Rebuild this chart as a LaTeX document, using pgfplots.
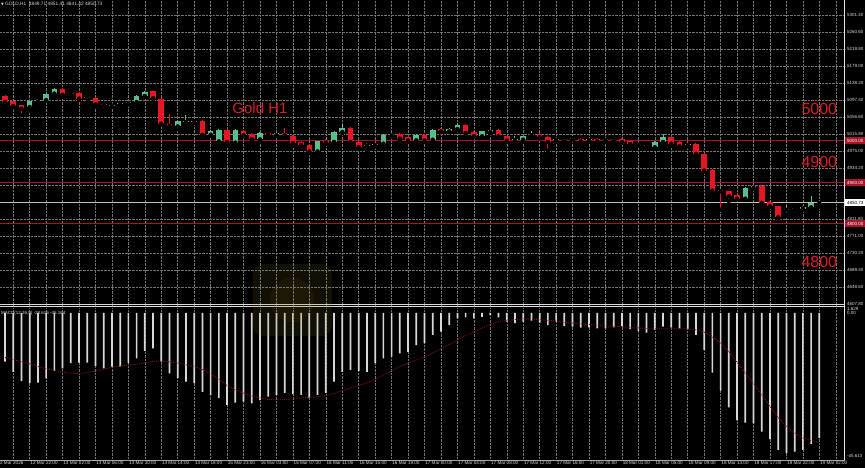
\documentclass[border=0pt]{standalone}
\usepackage{pgfplots}
\pgfplotsset{compat=1.18}
\usepackage{pgfplotstable}
\usepackage{fontspec}
\setmainfont{Liberation Sans}
\newfontfamily\sym{DejaVu Sans}
\definecolor{bull}{RGB}{90,190,140}
\definecolor{bear}{RGB}{232,22,36}
\definecolor{lvl}{RGB}{165,20,40}
\definecolor{lbl}{RGB}{215,30,40}
\definecolor{gridc}{RGB}{115,115,115}
\definecolor{txt}{RGB}{215,215,215}
\definecolor{hist}{RGB}{215,215,215}
\definecolor{sig}{RGB}{130,15,25}

\pgfplotstableread{
i o h l c
3 5080.6 5096 5072.6 5094
4 5094 5100 5092 5098
5 5097 5114 5095 5112
6 5112.6 5127 5111 5124.6
13 5084 5088 5082 5086.4
14 5087 5092 5085 5090
15 5089 5094 5087 5092
16 5092.6 5109 5090 5107
17 5107 5119 5105 5116.6
21 5034 5048 5028 5046
22 5044.6 5062 5042 5047
23 5044.6 5050 5042 5047
25 5014 5025 5012 5023
26 4998 5027 4995 5024.6
28 4995 5027 4992 5024.6
31 5003 5020 5000 5018
33 5013 5020 5011 5018
38 4974 5000 4970 4998
40 4996.6 5023 4994 5020.6
41 5020.6 5040 5018 5030
44 4988 4993 4976.6 4990.4
45 4989 4994 4986 4991.4
46 4992.6 5016 4990 5014
47 5012 5017 5010 5015
50 5000.6 5015 4998 5013
52 5002 5028 4998 5026
54 5022 5030 5020 5027.8
55 5027.8 5039 5025 5036.6
58 5010.2 5024 5008 5022.2
59 5020.6 5027 5018 5024.6
62 5001.4 5012 4996 5003.8
63 5002.2 5012 4999 5010.2
64 5012.6 5023.8 5010 5016.6
67 5001.4 5006 4999 5003.8
68 5001.4 5006 4999 5003.8
69 5003.8 5008 5001 5006.2
71 5001 5006 4999 5003.4
73 5001 5005 4999 5003.4
74 5001.4 5006 4999 5003.8
79 4983.8 4999 4981 4996.6
80 4996.6 5015.8 4994 5007.8
83 4988.6 4995 4986 4992.6
90 4860.6 4888 4858 4886.2
91 4886.2 4892 4884 4890.2
95 4834 4846 4822 4836.6
96 4836.6 4841 4834 4839
97 4836.6 4843 4834 4841
98 4839.8 4866 4838 4849.7
99 4849.71 4851.41 4841.42 4850.73
}\bulltab

\pgfplotstableread{
i o h l c
0 5107 5110 5090 5093
1 5094 5096 5080 5083
2 5084.6 5086 5060.6 5076.6
7 5124.6 5127 5108 5110
8 5114 5116 5110 5111.6
9 5115 5117 5098 5100.6
10 5105 5107 5100 5102.6
11 5103 5105 5083 5087
12 5087 5089 5072.6 5084.6
18 5118 5120 5100 5102
19 5100.6 5103 5038 5040.6
20 5040.6 5064.6 5032 5035
24 5047 5050 5012 5014
27 5024.6 5027 4988 4996.6
29 5023 5026 5010 5012.6
30 5016.6 5019 5000 5003
32 5018 5020 5012 5014
34 5018 5030 5010 5012.6
35 5011 5013 4990 4994
36 4996.6 4999 4987 4990
37 4990 4992 4970 4974
39 5000 5003 4992 4995
42 5030 5032 4993 4996.6
43 4996.6 4999 4981 4984.6
48 5015 5017 5002 5004.6
49 5008 5010 4997 5000
51 5012.6 5015 4998 5000
53 5027.8 5030 5020 5022
56 5036.6 5039 5016 5018.2
57 5020.6 5023 5008 5010.2
60 5024.6 5027 5008 5010.2
61 5010.2 5012 4997 5000
65 5016.6 5019 5005 5007.8
66 5007.8 5010 4975.8 4996.6
70 5003.8 5006 4996 4998.2
72 5004.6 5007 4996 4998.2
75 5004.6 5007 4994 4996.6
76 5000 5002 4989 4991.8
77 4992.6 4995 4988 4990.2
78 4990 4992 4983 4986
81 5007.8 5010 4990 4992.6
82 4996.6 4999 4983 4986.2
84 4991.8 4994 4964 4967.8
85 4967.8 4970 4925 4927.8
86 4930.2 4932 4877 4879.8
87 4882.2 4884 4834 4878.2
88 4878.2 4880 4855 4866.2
89 4868.6 4871 4858 4860.6
92 4890.2 4893 4848 4850.2
93 4852.6 4855 4840 4842.2
94 4842.2 4844 4812 4815.8
}\beartab

\pgfplotstableread{
i v s
0 -15.3 -14.0
1 -18.5 -14.6
2 -21.4 -15.3
3 -22.1 -16.0
4 -21.9 -16.8
5 -20.6 -17.5
6 -18.2 -18.1
7 -17.4 -18.6
8 -15.8 -19.0
9 -15.6 -19.1
10 -15.6 -18.7
11 -16.6 -18.2
12 -17.4 -17.7
13 -16.9 -17.1
14 -16.9 -16.7
15 -15.8 -16.4
16 -14.3 -16.1
17 -11.9 -15.7
18 -11.1 -15.2
19 -15.3 -15.1
20 -19.0 -15.4
21 -20.5 -15.7
22 -21.6 -16.3
23 -22.1 -16.8
24 -24.8 -17.8
25 -25.8 -19.1
26 -26.8 -20.8
27 -28.9 -22.8
28 -28.2 -24.2
29 -27.9 -25.2
30 -28.4 -26.1
31 -27.4 -26.7
32 -26.3 -27.2
33 -25.8 -27.3
34 -25.1 -27.2
35 -25.5 -27.1
36 -25.8 -26.7
37 -26.8 -26.6
38 -25.8 -26.3
39 -25.1 -26.0
40 -21.6 -25.3
41 -18.5 -24.4
42 -17.9 -23.6
43 -18.2 -22.8
44 -18.5 -22.0
45 -15.8 -20.9
46 -14.3 -19.5
47 -13.7 -18.2
48 -12.7 -16.8
49 -12.2 -15.8
50 -10.1 -14.8
51 -9.5 -13.9
52 -6.9 -12.6
53 -5.9 -11.2
54 -3.8 -9.9
55 -1.7 -8.5
56 -1.4 -7.1
57 -1.7 -5.9
58 -1.2 -4.7
59 -0.6 -3.6
60 -1.4 -2.7
61 -2.7 -2.3
62 -3.2 -2.0
63 -2.7 -1.8
64 -2.4 -1.9
65 -3.0 -2.1
66 -3.8 -2.3
67 -2.7 -2.5
68 -4.1 -2.9
69 -4.3 -3.2
70 -4.6 -3.4
71 -4.5 -3.6
72 -4.8 -3.8
73 -4.8 -4.1
74 -4.5 -4.2
75 -4.3 -4.3
76 -5.1 -4.6
77 -5.7 -4.7
78 -6.2 -4.9
79 -5.3 -5.0
80 -4.3 -5.0
81 -4.5 -5.0
82 -4.8 -5.0
83 -5.1 -5.0
84 -6.9 -5.3
85 -11.6 -6.0
86 -18.8 -7.5
87 -24.4 -9.5
88 -29.7 -12.2
89 -33.7 -15.5
90 -34.5 -18.8
91 -34.7 -22.2
92 -37.3 -25.7
93 -39.7 -29.4
94 -43.1 -32.9
95 -44.1 -35.7
96 -43.6 -37.8
97 -43.1 -39.3
98 -41.2 -40.1
99 -39.4 -40.7
}\macdtab

\begin{document}
\begin{tikzpicture}[x=1pt,y=1pt]
\useasboundingbox (0,0) rectangle (865,468);
\fill[black] (0,0) rectangle (865,468);
\begin{scope}
\clip (0,0) rectangle (865,468);

% ---------------- price panel ----------------
\begin{axis}[at={(0pt,163pt)}, anchor=south west, scale only axis,
  width=844pt, height=305pt,
  xmin=-0.608, xmax=102.0, ymin=4605.4, ymax=5337.4,
  axis line style={draw=none}, major tick length=0pt, clip=false,
  xtick={1,3,...,101}, xticklabels={},
  ytick={4607.8,4648.6,4689.4,4730.2,4771.0,4811.8,4852.6,4893.4,4934.2,4975.0,5015.8,5056.6,5097.4,5138.2,5179.0,5219.8,5260.6,5301.4},
  yticklabels={4607.80,4648.60,4689.40,4730.20,4771.00,4811.80,4852.60,4893.40,4934.20,4975.00,5015.80,5056.60,5097.40,5138.20,5179.00,5219.80,5260.60,5301.40},
  yticklabel pos=right,
  yticklabel style={font=\fontsize{4.5}{5}\selectfont, text=txt, inner sep=0.5pt, xshift=2.5pt},
  grid=major, grid style={gridc, densely dotted, line width=0.5pt}]

\addplot[lvl, line width=0.9pt] coordinates {(-0.608,5000) (102,5000)};
\addplot[lvl, line width=0.9pt] coordinates {(-0.608,4900) (102,4900)};
\addplot[lvl, line width=0.9pt] coordinates {(-0.608,4800) (102,4800)};
\addplot[white!75!black, line width=0.7pt] coordinates {(-0.608,4850.73) (102,4850.73)};

% wicks
\addplot[only marks, mark=none, error bars/.cd, y dir=plus, y explicit, error mark=none,
  error bar style={draw=bull, line width=1pt}]
  table[x=i, y=l, y error plus expr=\thisrow{h}-\thisrow{l}] {\bulltab};
\addplot[only marks, mark=none, error bars/.cd, y dir=plus, y explicit, error mark=none,
  error bar style={draw=bear, line width=1pt}]
  table[x=i, y=l, y error plus expr=\thisrow{h}-\thisrow{l}] {\beartab};
% bodies
\addplot[only marks, mark=none, error bars/.cd, y dir=plus, y explicit, error mark=none,
  error bar style={draw=bull, line width=5.6pt}]
  table[x=i, y=o, y error plus expr=\thisrow{c}-\thisrow{o}] {\bulltab};
\addplot[only marks, mark=none, error bars/.cd, y dir=plus, y explicit, error mark=none,
  error bar style={draw=bear, line width=5.6pt}]
  table[x=i, y=c, y error plus expr=\thisrow{o}-\thisrow{c}] {\beartab};

\node[text=lbl, font=\fontsize{15}{15}\selectfont] at (axis cs:31.0,5078.2) {Gold H1};
\node[text=lbl, font=\fontsize{16}{16}\selectfont] at (axis cs:99.0,5075.8) {5000};
\node[text=lbl, font=\fontsize{16}{16}\selectfont] at (axis cs:99.0,4948.6) {4900};
\node[text=lbl, font=\fontsize{16}{16}\selectfont] at (axis cs:99.0,4708.6) {4800};
\end{axis}

% ---------------- MACD panel ----------------
\begin{axis}[at={(0pt,8pt)}, anchor=south west, scale only axis,
  width=844pt, height=152pt,
  xmin=-0.608, xmax=102.0, ymin=-46.25, ymax=1.573,
  axis line style={draw=none}, major tick length=0pt, clip=false,
  xtick={1,3,...,101}, xticklabels={}, ytick=\empty,
  xmajorgrids, grid style={gridc, densely dotted, line width=0.5pt}]
\addplot[ybar, bar width=1.7pt, bar shift=0pt, fill=hist, draw=none] table[x=i, y=v] {\macdtab};
\addplot[sig, densely dotted, line width=0.9pt] table[x=i, y=s] {\macdtab};
\end{axis}

% frame lines
\draw[white!85!black, line width=0.7pt] (0,163.3) -- (844.5,163.3);
\draw[white!85!black, line width=0.7pt] (0,161.2) -- (844.5,161.2);
\draw[white!65!black, line width=0.5pt] (0,8) -- (844.5,8);
\draw[white!90!black, line width=0.7pt] (844.5,8) -- (844.5,468);

% right tags
\fill[lvl] (845,323.5) rectangle (865,330.5);
\node[anchor=west, inner sep=0pt, font=\fontsize{4.5}{5}\selectfont, text=white] at (847,327) {5000.00};
\fill[lvl] (845,281.5) rectangle (865,288.5);
\node[anchor=west, inner sep=0pt, font=\fontsize{4.5}{5}\selectfont, text=white] at (847,285) {4900.00};
\fill[lvl] (845,240.5) rectangle (865,247.5);
\node[anchor=west, inner sep=0pt, font=\fontsize{4.5}{5}\selectfont, text=white] at (847,244) {4800.00};
\fill[white] (845,261.7) rectangle (865,268.7);
\node[anchor=west, inner sep=0pt, font=\fontsize{4.5}{5}\selectfont, text=black] at (847,265.2) {4850.73};

% MACD labels
\node[anchor=west, inner sep=0pt, font=\fontsize{4.5}{5}\selectfont, text=txt] at (847,159) {1.629};
\node[anchor=west, inner sep=0pt, font=\fontsize{4.5}{5}\selectfont, text=txt] at (847,155) {0.00};
\node[anchor=west, inner sep=0pt, font=\fontsize{4.5}{5}\selectfont, text=txt] at (847,12) {-45.613};
\node[anchor=west, inner sep=0pt, font=\fontsize{4.5}{5}\selectfont, text=txt] at (1,155) {MACD(12,26,9) -28.616 -45.164};

% header
\node[anchor=west, inner sep=0pt, font=\fontsize{4.8}{5}\selectfont, text=txt] at (1,464) {{\sym\fontsize{3.5}{4}\selectfont\char"25BC}\ GOLD,H1\ \ 4849.71 4851.41 4841.42 4850.73};

% time labels
\foreach \i/\t in {-1/12 Mar 2026, 3/12 Mar 22:00, 7/13 Mar 02:00, 11/13 Mar 06:00, 15/13 Mar 10:00, 19/13 Mar 14:00, 23/13 Mar 18:00, 27/15 Mar 23:00, 31/16 Mar 03:00, 35/16 Mar 07:00, 39/16 Mar 11:00, 43/16 Mar 15:00, 47/16 Mar 19:00, 51/17 Mar 00:00, 55/17 Mar 04:00, 59/17 Mar 08:00, 63/17 Mar 12:00, 67/17 Mar 16:00, 71/17 Mar 20:00, 75/18 Mar 01:00, 79/18 Mar 05:00, 83/18 Mar 09:00, 87/18 Mar 13:00, 91/18 Mar 17:00, 95/18 Mar 22:00, 99/19 Mar 02:00}{
  \node[anchor=north west, inner sep=0.6pt, font=\fontsize{4.6}{5}\selectfont, text=txt] at ({5+8.226*\i}, 7.2) {\t};
}

% watermark (faint)
\fill[fill={rgb,255:red,150;green,125;blue,35}, opacity=0.12, rounded corners=10pt] (253,132) rectangle (332,204);
\fill[fill={rgb,255:red,150;green,125;blue,35}, opacity=0.08] (292,168) circle (22);
\end{scope}
\end{tikzpicture}
\end{document}
